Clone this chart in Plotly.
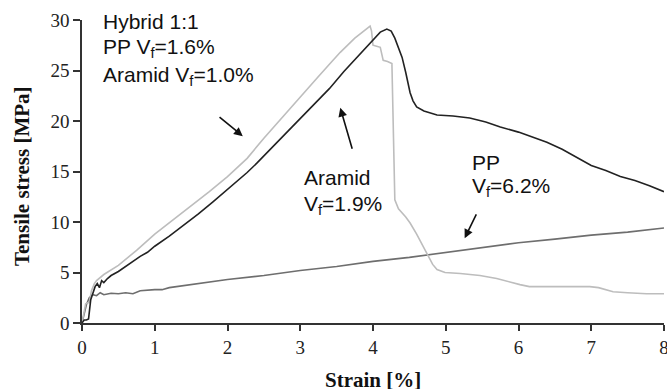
import plotly.graph_objects as go

# Hybrid 1:1 (black)
hyb_strain = [0, 0.03, 0.06, 0.09, 0.12, 0.15, 0.18, 0.21, 0.24, 0.27, 0.3, 0.35, 0.4, 0.5, 0.6, 0.7, 0.8, 0.9, 1.0,
              1.2, 1.4, 1.6, 1.8, 2.0, 2.27, 2.4, 2.6, 2.8, 3.0, 3.2, 3.4, 3.6, 3.8, 4.0, 4.1, 4.19, 4.25, 4.3,
              4.35, 4.4, 4.45, 4.51, 4.55, 4.6, 4.7, 4.88, 5.1, 5.33, 5.55, 5.75, 6.0, 6.2, 6.39, 6.6, 6.85, 7.0,
              7.2, 7.4, 7.6, 7.8, 8.0]
hyb_stress = [0, 0.3, 0.3, 0.4, 2.3, 3.0, 3.6, 3.9, 3.5, 4.2, 4.0, 4.4, 4.7, 5.1, 5.6, 6.1, 6.6, 7.0, 7.6,
              8.6, 9.7, 10.8, 12.0, 13.2, 14.9, 15.8, 17.3, 18.8, 20.2, 21.7, 23.2, 24.9, 26.5, 28.1, 28.8, 29.1, 28.9, 28.2,
              27.3, 26.3, 24.8, 22.8, 22.0, 21.4, 21.0, 20.6, 20.5, 20.3, 19.9, 19.4, 18.9, 18.4, 17.9, 17.2, 16.2, 15.6,
              15.1, 14.5, 14.1, 13.6, 13.0]

# Aramid Vf=1.9% (light grey)
ara_strain = [0, 0.03, 0.05, 0.08, 0.1, 0.13, 0.17, 0.2, 0.3, 0.5, 0.75, 1.0, 1.25, 1.5, 1.75, 2.0, 2.27, 2.5, 2.75,
              3.0, 3.25, 3.41, 3.55, 3.75, 3.9, 3.96, 3.98, 4.0, 4.05, 4.1, 4.14, 4.2, 4.26, 4.28, 4.3, 4.35, 4.45,
              4.51, 4.6, 4.74, 4.82, 4.88, 4.99, 5.2, 5.47, 5.7, 5.85, 6.02, 6.15, 6.5, 6.98, 7.1, 7.3, 7.5, 7.76, 8.0]
ara_stress = [0, 1.0, 1.9, 2.0, 2.0, 3.2, 3.9, 4.2, 4.8, 5.7, 7.2, 8.8, 10.2, 11.6, 13.0, 14.5, 16.3, 18.3, 20.3,
              22.3, 24.4, 25.7, 26.8, 28.2, 29.1, 29.4, 28.9, 27.5, 27.4, 27.3, 26.0, 25.9, 25.7, 20.0, 12.2, 11.3, 10.5,
              9.9, 8.8, 6.9, 5.8, 5.3, 5.0, 4.9, 4.7, 4.4, 4.1, 3.8, 3.6, 3.6, 3.6, 3.5, 3.1, 3.0, 2.9, 2.9]

# PP Vf=6.2% (mid grey)
pp_strain = [0, 0.03, 0.06, 0.1, 0.15, 0.2, 0.25, 0.3, 0.4, 0.5, 0.6, 0.7, 0.8, 1.0, 1.1, 1.2, 1.5, 2.0, 2.5,
             3.0, 3.5, 4.0, 4.5, 5.0, 5.5, 6.0, 6.5, 7.0, 7.5, 8.0]
pp_stress = [0, 0.8, 1.8, 2.5, 2.8, 2.7, 3.0, 2.8, 2.95, 2.9, 3.0, 2.9, 3.2, 3.3, 3.3, 3.5, 3.8, 4.3, 4.7,
             5.2, 5.6, 6.1, 6.5, 7.0, 7.5, 7.95, 8.3, 8.7, 9.0, 9.4]

x_ticks = [0, 1, 2, 3, 4, 5, 6, 7, 8]
y_ticks = [0, 5, 10, 15, 20, 25, 30]

fig = go.Figure()
fig.add_trace(go.Scatter(x=pp_strain, y=pp_stress, mode="lines", line=dict(color="#6e6e6e", width=1.6)))
fig.add_trace(go.Scatter(x=ara_strain, y=ara_stress, mode="lines", line=dict(color="#bdbdbd", width=1.6)))
fig.add_trace(go.Scatter(x=hyb_strain, y=hyb_stress, mode="lines", line=dict(color="#222222", width=1.6)))

sans = dict(family="Liberation Sans, Arial", size=21, color="#111")
texts = [
    ("Hybrid 1:1", 0.26, 29.9),
    ("PP V<sub>f</sub>=1.6%", 0.26, 27.2),
    ("Aramid V<sub>f</sub>=1.0%", 0.26, 24.5),
    ("Aramid", 3.03, 14.4),
    ("V<sub>f</sub>=1.9%", 3.03, 11.7),
    ("PP", 5.33, 15.9),
    ("V<sub>f</sub>=6.2%", 5.33, 13.5),
]
for t, x, y in texts:
    fig.add_annotation(x=x, y=y, text=t, showarrow=False, xanchor="left", yanchor="middle", font=sans)

arrows = [((1.87, 20.5), (2.21, 18.5)), ((3.72, 17.1), (3.55, 21.3)), ((5.43, 10.9), (5.26, 8.4))]
for (tx, ty), (hx, hy) in arrows:
    fig.add_annotation(x=hx, y=hy, ax=tx, ay=ty, xref="x", yref="y", axref="x", ayref="y", text="",
                       showarrow=True, arrowhead=2, arrowsize=1.1, arrowwidth=1.6, arrowcolor="#111")

title_font = dict(family="Liberation Serif, Times New Roman", size=21, color="#111")
fig.add_annotation(xref="paper", yref="paper", x=0.5, y=-0.188, text="<b>Strain [%]</b>", showarrow=False,
                   xanchor="center", yanchor="middle", font=title_font)
fig.add_annotation(xref="paper", yref="paper", x=-0.103, y=0.485, text="<b>Tensile stress [MPa]</b>", showarrow=False,
                   xanchor="center", yanchor="middle", textangle=-90, font=title_font)

serif_ticks = dict(family="Liberation Serif, Times New Roman", size=19, color="#222")
fig.update_xaxes(range=[0, 8], tickvals=x_ticks, showline=True, linecolor="#333", linewidth=1.5,
                 ticks="outside", ticklen=6, tickwidth=1.5, tickcolor="#333", showgrid=False, zeroline=False,
                 tickfont=serif_ticks, automargin=False, ticklabeloverflow="allow")
fig.update_yaxes(range=[0, 30], tickvals=y_ticks, showline=True, linecolor="#333", linewidth=1.5,
                 ticks="outside", ticklen=7, tickwidth=1.5, tickcolor="#333", showgrid=False, zeroline=False,
                 tickfont=serif_ticks, automargin=False, ticklabeloverflow="allow")

fig.update_layout(width=667, height=389, margin=dict(l=82, r=3, t=20, b=66),
                  plot_bgcolor="white", paper_bgcolor="white", showlegend=False)
fig.write_html("out.html", config={"displayModeBar": False},
               post_script="document.body.style.margin='0px';"
                           "document.body.style.overflow='hidden';"
                           "document.documentElement.style.overflow='hidden';")
